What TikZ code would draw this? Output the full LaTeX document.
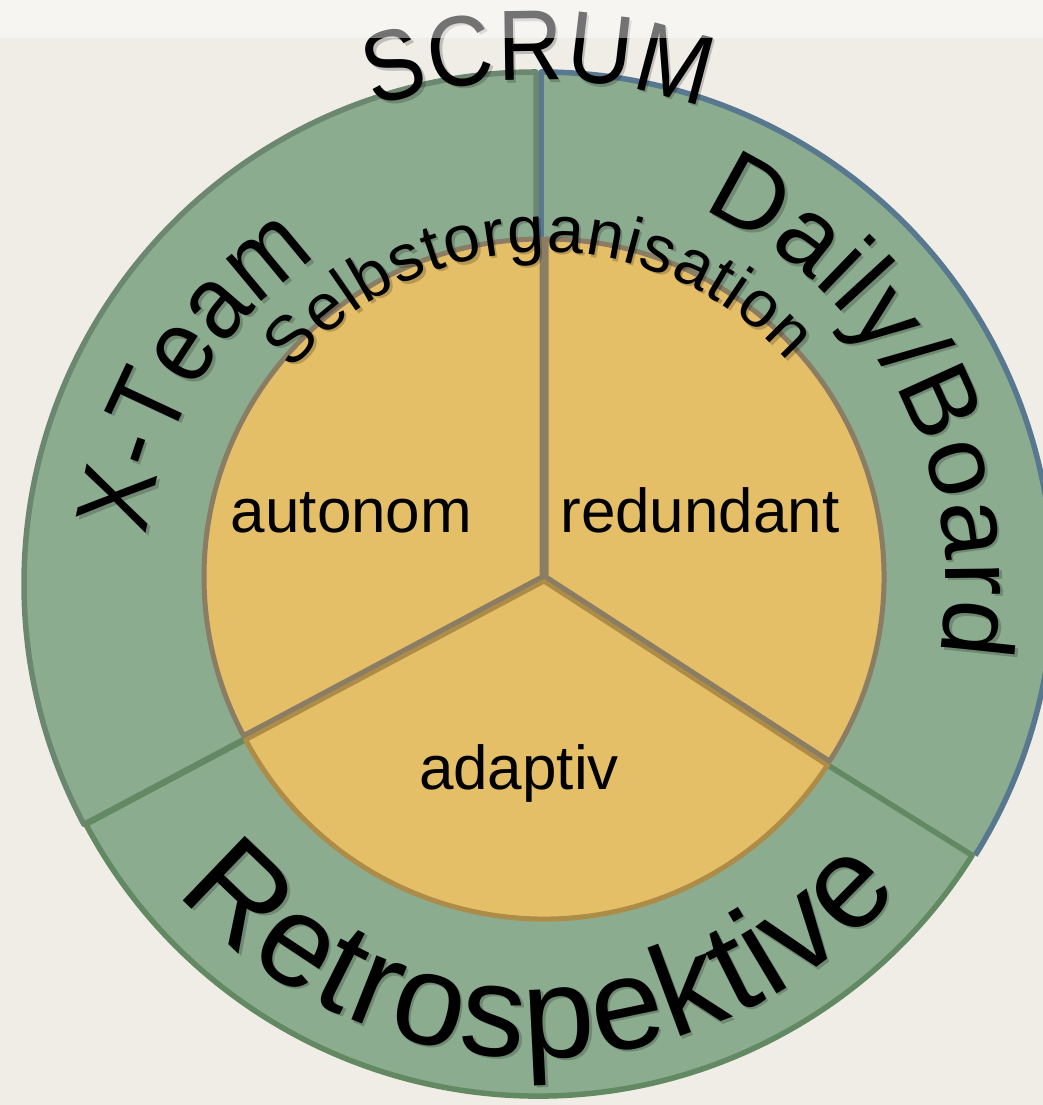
\documentclass[tikz,border=0pt]{standalone}
\usepackage{fontspec}
\setmainfont{Liberation Sans}
\newfontfamily\arcA[FakeStretch=0.9]{Liberation Sans}
\newfontfamily\arcB[FakeStretch=0.9]{Liberation Sans}
\usetikzlibrary{decorations.text}

\definecolor{bg}{HTML}{EFEDE6}
\definecolor{ringfill}{HTML}{8BAC8F}
\definecolor{ringleft}{HTML}{6B8770}
\definecolor{ringbottom}{HTML}{638963}
\definecolor{ringright}{HTML}{58788F}
\definecolor{corefill}{HTML}{E4BF67}
\definecolor{coregray}{HTML}{8A7D64}
\definecolor{coregold}{HTML}{AD8C48}

\begin{document}
\begin{tikzpicture}[x=1pt,y=1pt,
  ringw/.style={line width=5.5pt, line join=round},
  corew/.style={fill=corefill, line width=5pt, line join=round},
  sectortext/.style={font=\fontsize{62}{62}\selectfont, text=black, inner sep=0pt, anchor=base}
]
\useasboundingbox (0,0) rectangle (1043,1105);
\fill[bg] (0,0) rectangle (1043,1105);

% outer ring wedges
\fill[ringfill] (541,521) -- ++(-32:512) arc[start angle=-32, end angle=90, radius=512] -- cycle;
\draw[ringw, ringright] (541,521) ++(-32:512) arc[start angle=-32, end angle=90, radius=512] -- (541,521);
\filldraw[ringw, fill=ringfill, draw=ringleft] (536,521) -- ++(90:512) arc[start angle=90, end angle=208, radius=512] -- cycle;
\filldraw[ringw, fill=ringfill, draw=ringbottom] (538,521) -- ++(208:512) arc[start angle=208, end angle=328, radius=512] -- cycle;

% inner pie
\filldraw[corew, draw=coregold] (544,524) -- ++(208:338) arc[start angle=208, end angle=327, radius=338] -- cycle;
\filldraw[corew, draw=coregray] (542,528) -- ++(90:338) arc[start angle=90, end angle=208, radius=338] -- cycle;
\filldraw[corew, draw=coregray] (546,528) -- ++(-33:338) arc[start angle=-33, end angle=90, radius=338] -- cycle;

% sector labels
\node[sectortext] (autonom) at (351.5,572) {autonom};
\node[sectortext] (redundant) at (700,572) {redundant};
\node[sectortext] (adaptiv) at (519,315) {adaptiv};

% curved texts: soft shadow layer
\begin{scope}[opacity=0.2]
\path[shift={(540.5,518.5)}, decorate, decoration={text along path, text align={fit to path}, text color=black,
  text={|\arcA\fontsize{100}{100}\selectfont|SCRUM}}] (109:504) arc[start angle=109, end angle=71, radius=504];
\path[shift={(540.5,518.5)}, decorate, decoration={text along path, text align={fit to path}, text color=black,
  text={|\arcB\fontsize{104}{104}\selectfont|X-Team}}] (173:394) arc[start angle=173, end angle=124, radius=394];
\path[shift={(540.5,518.5)}, decorate, decoration={text along path, text align={fit to path}, text color=black,
  text={|\fontsize{102}{102}\selectfont|Daily/Board}}] (66.3:408) arc[start angle=66.3, end angle=-9.9, radius=408];
\path[shift={(540.5,518.5)}, decorate, decoration={text along path, text align={fit to path}, text color=black,
  text={|\fontsize{130}{130}\selectfont|Retrospektive}}] (220.5:474) arc[start angle=220.5, end angle=319.8, radius=474];
\path[shift={(546.5,524.5)}, decorate, decoration={text along path, text align={fit to path}, text color=black,
  text={|\fontsize{66}{66}\selectfont|Selbstorganisation}}] (140.5:326) arc[start angle=140.5, end angle=41.5, radius=326];
\end{scope}

% curved texts
\path[shift={(538,521)}, decorate, decoration={text along path, text align={fit to path}, text color=black,
  text={|\arcA\fontsize{100}{100}\selectfont|SCRUM}}] (109:504) arc[start angle=109, end angle=71, radius=504];
\path[shift={(538,521)}, decorate, decoration={text along path, text align={fit to path}, text color=black,
  text={|\arcB\fontsize{104}{104}\selectfont|X-Team}}] (173:394) arc[start angle=173, end angle=124, radius=394];
\path[shift={(538,521)}, decorate, decoration={text along path, text align={fit to path}, text color=black,
  text={|\fontsize{102}{102}\selectfont|Daily/Board}}] (66.3:408) arc[start angle=66.3, end angle=-9.9, radius=408];
\path[shift={(538,521)}, decorate, decoration={text along path, text align={fit to path}, text color=black,
  text={|\fontsize{130}{130}\selectfont|Retrospektive}}] (220.5:474) arc[start angle=220.5, end angle=319.8, radius=474];
\path[shift={(544,527)}, decorate, decoration={text along path, text align={fit to path}, text color=black,
  text={|\fontsize{66}{66}\selectfont|Selbstorganisation}}] (140.5:326) arc[start angle=140.5, end angle=41.5, radius=326];

% light top strip overlay
\fill[white, opacity=0.45] (0,1067) rectangle (1043,1105);
\end{tikzpicture}
\end{document}
